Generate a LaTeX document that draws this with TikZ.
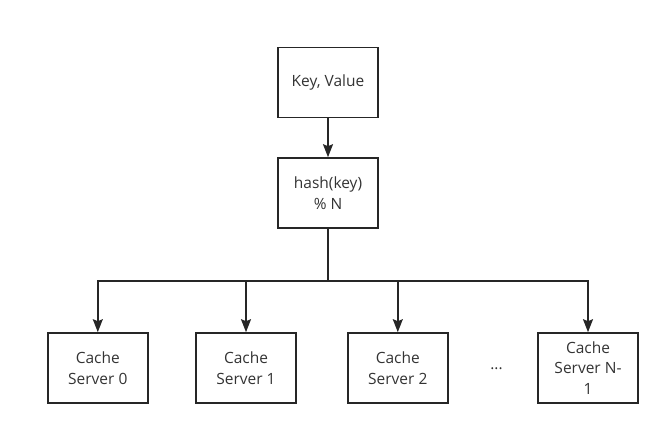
\documentclass[tikz,border=0pt]{standalone}
\usepackage{fontspec}
\setmainfont{Open Sans}
\usetikzlibrary{arrows.meta}
\begin{document}
\begin{tikzpicture}[x=1pt,y=-1pt,
  lbl/.style={font=\fontsize{15.5}{20.5}\selectfont,text=black!80},
  box/.style={lbl,draw=black!85,line width=1.6pt,minimum width=100pt,minimum height=70pt,inner sep=0pt,align=center},
  arr/.style={draw=black!85,line width=1.5pt,-{Stealth[length=13pt,width=10pt,inset=2pt]}}]
\useasboundingbox (0,0) rectangle (670,435);
\node[box] (kv) at (328,82.5) {Key, Value};
\node[box] (hash) at (328,193) {hash(key)\\\% N};
\node[box] (s0) at (97.8,368) {Cache\\Server 0};
\node[box] (s1) at (246,368) {Cache\\Server 1};
\node[box] (s2) at (397.8,368) {Cache\\Server 2};
\node[box] (sn) at (588,368) {Cache\\Server N-\\1};
\node[lbl] (dots) at (496.5,369) {...};
\coordinate (j) at (328,281);
\draw[arr] (kv) -- (hash);
\draw[arr] (hash.south) -- (j) -| (s0.north);
\draw[arr] (j) -| (s1.north);
\draw[arr] (j) -| (s2.north);
\draw[arr] (j) -| (sn.north);
\end{tikzpicture}
\end{document}
